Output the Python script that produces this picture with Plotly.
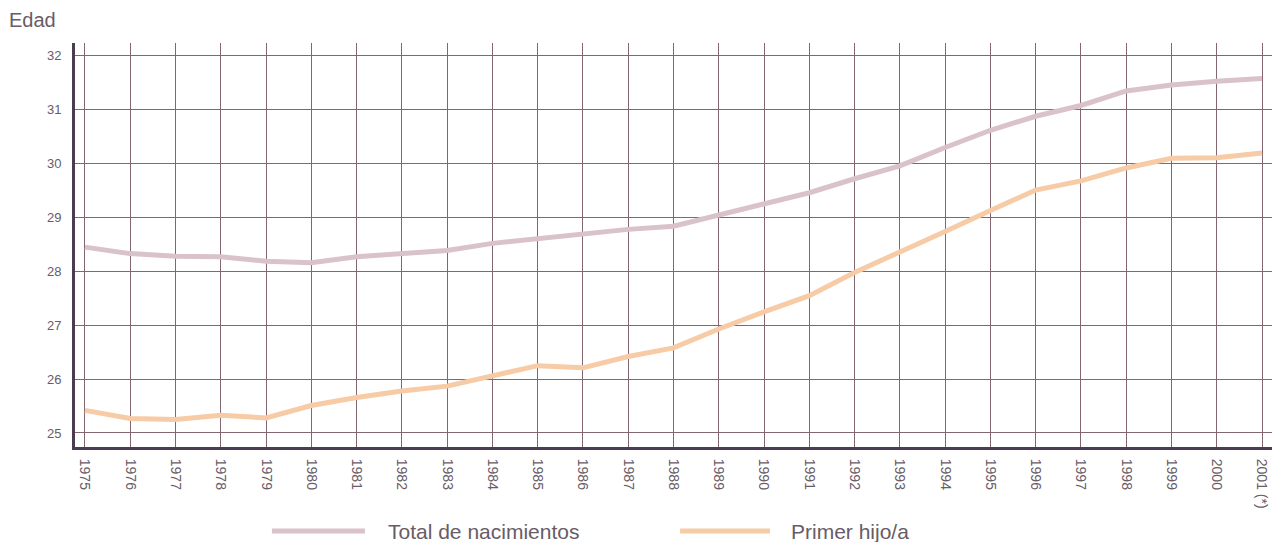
import plotly.graph_objects as go

years = list(range(1975, 2002))
year_labels = [str(y) for y in range(1975, 2001)] + ["2001 (*)"]
total_nacimientos = [28.45, 28.33, 28.28, 28.27, 28.19, 28.16, 28.27, 28.34, 28.39, 28.52,
                     28.61, 28.70, 28.78, 28.84, 29.04, 29.25, 29.46, 29.72, 29.96, 30.30,
                     30.62, 30.88, 31.08, 31.35, 31.46, 31.53, 31.58]
primer_hijo = [25.42, 25.27, 25.25, 25.33, 25.28, 25.51, 25.66, 25.78, 25.87, 26.07,
               26.25, 26.21, 26.42, 26.58, 26.93, 27.25, 27.55, 27.98, 28.35, 28.74,
               29.13, 29.51, 29.68, 29.92, 30.10, 30.11, 30.20]
y_ticks = [25, 26, 27, 28, 29, 30, 31, 32]
series_names = ["Total de nacimientos", "Primer hijo/a"]
colors = ["#d9c2cc", "#f6cba6"]

text_color = "#685c66"

fig = go.Figure()
fig.add_trace(go.Scatter(x=years, y=total_nacimientos, mode="lines", name=series_names[0],
                         line=dict(color=colors[0], width=5)))
fig.add_trace(go.Scatter(x=years, y=primer_hijo, mode="lines", name=series_names[1],
                         line=dict(color=colors[1], width=5)))

grid_color = "#846670"
fig.update_layout(
    width=1281, height=542,
    margin=dict(l=75, r=9, t=43, b=95),
    paper_bgcolor="white", plot_bgcolor="white",
    showlegend=False,
    font=dict(family="Liberation Sans, Arial, sans-serif", color=text_color),
    xaxis=dict(range=[1974.78, 2001.22], tickvals=years, ticktext=year_labels,
               tickangle=90, tickfont=dict(size=14, color=text_color),
               showgrid=True, gridcolor=grid_color, gridwidth=1,
               showline=True, linecolor="#4a3d52", linewidth=3,
               ticks="", zeroline=False, ticklabelstandoff=6),
    yaxis=dict(range=[24.74, 32.24], tickvals=y_ticks,
               tickfont=dict(size=13, color=text_color),
               showgrid=True, gridcolor=grid_color, gridwidth=1,
               showline=True, linecolor="#4a3d52", linewidth=3,
               ticks="", zeroline=False, ticklabelstandoff=8),
)

fig.add_annotation(text="Edad", xref="paper", yref="paper", x=-0.057, y=1.0,
                   yshift=23, xanchor="left", yanchor="middle", showarrow=False,
                   font=dict(size=20, color=text_color))

# manual legend below the chart (line start, line end, text start in plot-area fractions)
legend_items = [(0.1645, 0.2422, 0.2595, series_names[0], colors[0]),
                (0.5055, 0.5806, 0.5965, series_names[1], colors[1])]
for x0, x1, xt, name, col in legend_items:
    fig.add_shape(type="line", xref="paper", yref="paper", x0=x0, x1=x1,
                  y0=-0.208, y1=-0.208, line=dict(color=col, width=5))
    fig.add_annotation(text=name, xref="paper", yref="paper", x=xt, y=-0.208,
                       xanchor="left", yanchor="middle", showarrow=False,
                       font=dict(size=21, color=text_color))

fig.write_html("out.html", config={"displayModeBar": False},
               post_script="document.body.style.margin='0';")
